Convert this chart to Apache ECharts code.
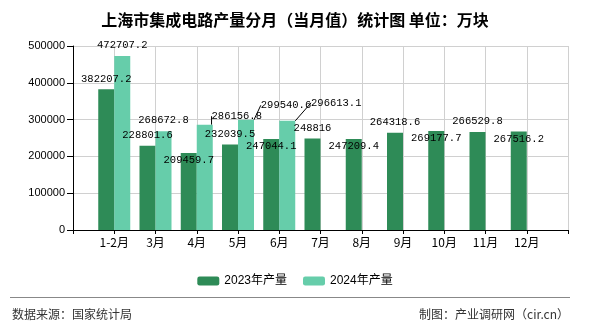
<!DOCTYPE html>
<html>
<head>
<meta charset="utf-8">
<script src="https://cdn.jsdelivr.net/npm/echarts@6/dist/echarts.min.js"></script>
<style>
html,body{margin:0;padding:0;background:#fff;}
#chart{width:590px;height:330px;}
</style>
</head>
<body>
<div id="chart"></div>
<script>
// ---- data ----
const categories = ['1-2月','3月','4月','5月','6月','7月','8月','9月','10月','11月','12月'];
const output2023 = [382207.2, 228801.6, 209459.7, 232039.5, 247044.1, 248816, 247209.4, 264318.6, 269177.7, 266529.8, 267516.2];
const output2024 = [472707.2, 268672.8, 286156.8, 299540.6, 296613.1];
const seriesNames = ['2023年产量', '2024年产量'];
const titleText = '上海市集成电路产量分月（当月值）统计图 单位：万块';
const sourceText = '数据来源：国家统计局';
const makerText = '制图：产业调研网（cir.cn）';

// ---- label layout styling (not data) ----
const insideLabelCats2023 = ['4月','6月','8月','10月','12月'];
const leaderShift2024 = { '4月': [32, 2], '5月': [40, -4], '6月': [49, -7.5] };

// axis with empty slot at both ends so months sit on the tick lines
const axisCats = [''].concat(categories, ['']);
const pad = (arr) => [null].concat(arr, new Array(axisCats.length - 1 - arr.length).fill(null));

const labelFont = { fontFamily: 'Liberation Mono, DejaVu Sans Mono, monospace', fontSize: 10.5, color: '#000', textBorderWidth: 0 };

const data2023 = pad(output2023).map((v, i) => {
  if (v === null) return null;
  const inside = insideLabelCats2023.indexOf(axisCats[i]) >= 0;
  return inside ? { value: v, label: { position: 'insideTop', distance: 2 } } : v;
});
const data2024 = pad(output2024).map((v, i) => {
  if (v === null) return null;
  return leaderShift2024[axisCats[i]] ? { value: v, labelLine: { show: true } } : v;
});

const chart = echarts.init(document.getElementById('chart'), null, { renderer: 'canvas' });
chart.setOption({
  animation: false,
  backgroundColor: '#fff',
  title: {
    text: titleText,
    left: 'center',
    top: 7,
    textStyle: { fontSize: 16, fontWeight: 'bold', color: '#000', fontFamily: 'Noto Sans CJK SC, sans-serif' }
  },
  legend: {
    data: seriesNames,
    left: 'center',
    top: 270,
    itemWidth: 22,
    itemHeight: 9,
    itemGap: 16,
    itemStyle: { borderWidth: 0 },
    textStyle: { fontSize: 12, color: '#000', fontFamily: 'Liberation Sans, Noto Sans CJK SC, sans-serif' }
  },
  grid: { left: 73, right: 22, top: 46, bottom: 100, containLabel: false },
  xAxis: {
    type: 'category',
    data: axisCats,
    boundaryGap: false,
    axisLine: { lineStyle: { color: '#000', width: 1 } },
    axisTick: { show: true, length: 4, interval: 0, lineStyle: { color: '#000' } },
    axisLabel: { interval: 0, margin: 6, color: '#000', fontSize: 12, fontFamily: 'Noto Sans CJK SC, sans-serif' },
    splitLine: { show: true, interval: 0, lineStyle: { color: '#d0d0d0', width: 1 } }
  },
  yAxis: {
    type: 'value',
    min: 0,
    max: 500000,
    interval: 100000,
    axisLine: { show: true, lineStyle: { color: '#000', width: 1 } },
    axisTick: { show: true, length: 6, lineStyle: { color: '#000' } },
    axisLabel: { margin: 8, color: '#000', fontSize: 11, fontFamily: 'Liberation Sans, sans-serif', formatter: (v) => String(v) },
    splitLine: { show: true, lineStyle: { color: '#d0d0d0', width: 1 } }
  },
  series: [
    {
      name: seriesNames[0],
      type: 'bar',
      data: data2023,
      barWidth: 16,
      barGap: '0%',
      itemStyle: { color: '#2e8b57' },
      label: Object.assign({ show: true, position: 'top', distance: 5 }, labelFont)
    },
    {
      name: seriesNames[1],
      type: 'bar',
      data: data2024,
      barWidth: 16,
      barGap: '0%',
      itemStyle: { color: '#66cdaa' },
      label: Object.assign({ show: true, position: 'top', distance: 5 }, labelFont),
      labelLine: { show: false, lineStyle: { color: '#000', width: 1 } },
      labelLayout: function (p) {
        const s = leaderShift2024[axisCats[p.dataIndex]];
        if (!s) return {};
        const lr = p.labelRect, r = p.rect;
        const nx = lr.x + s[0], ny = lr.y + s[1];
        const uy = ny + lr.height + 1;
        return {
          dx: s[0], dy: s[1],
          labelLinePoints: [[r.x + r.width / 2 + 3, r.y], [nx - 1, uy], [nx + lr.width + 3, uy]]
        };
      }
    }
  ],
  graphic: [
    { type: 'line', shape: { x1: 10, y1: 297.5, x2: 570, y2: 297.5 }, style: { stroke: '#888', lineWidth: 1 } },
    { type: 'text', left: 12, top: 308, style: { text: sourceText, fill: '#333', fontSize: 12, fontFamily: 'Noto Sans CJK SC, sans-serif' } },
    { type: 'text', right: 21, top: 308, style: { text: makerText, fill: '#333', fontSize: 12, fontFamily: 'Noto Sans CJK SC, sans-serif' } }
  ]
});
</script>
</body>
</html>
